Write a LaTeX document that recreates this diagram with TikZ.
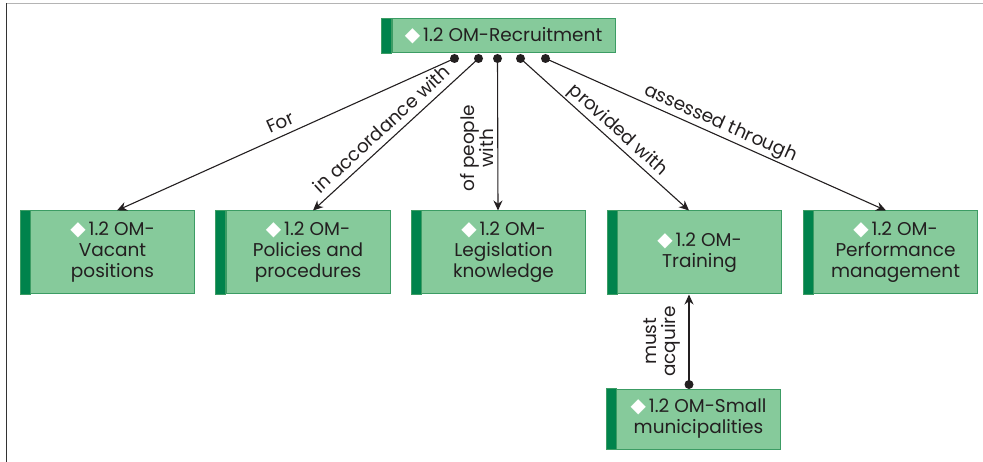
\documentclass[tikz,border=0pt]{standalone}
\usepackage{fontspec}
\setmainfont{Poppins}
\newfontfamily\symbolfont{DejaVu Sans}
\usetikzlibrary{arrows.meta,calc}

\definecolor{conceptfill}{HTML}{86CA9B}
\definecolor{conceptline}{HTML}{3C9C64}
\definecolor{conceptstrip}{HTML}{00834C}
\definecolor{ink}{HTML}{231F20}
\definecolor{framegray}{HTML}{B4B4B4}
\definecolor{framedark}{HTML}{333333}

% white diamond bullet in front of each concept title
\newcommand{\bullitem}{{\symbolfont\fontsize{20}{20}\selectfont\color{white}◆}\hspace{3pt}}

\begin{document}
\begin{tikzpicture}[x=1pt,y=-1pt,
  concept/.style={draw=conceptline, fill=conceptfill, line width=1pt,
    minimum width=164pt, minimum height=83pt, inner sep=2pt,
    align=center, text=ink, font=\fontsize{18.5}{21}\selectfont},
  strip/.style={fill=conceptstrip, draw=conceptline, line width=1pt},
  link/.style={draw=ink, line width=1.1pt, -{Stealth[length=10pt,width=9pt]}},
  joint/.style={fill=ink},
  linklabel/.style={text=ink, font=\fontsize{18.5}{19}\selectfont,
    text height=13pt, text depth=3.5pt, inner sep=3pt},
]
\useasboundingbox (0,0) rectangle (983,462);

% page frame
\draw[framegray, line width=1.3pt] (6.5,3.5) -- (983,3.5);
\draw[framedark, line width=1.3pt] (6.5,3.5) -- (6.5,462);

% concepts
\node[concept, minimum width=223pt, minimum height=34pt] (rec) at (503.5,36) {\bullitem 1.2 OM-Recruitment};
\node[concept] (vac) at (112.5,252.5) {\bullitem 1.2 OM-\\Vacant\\positions};
\node[concept] (pol) at (308,252.5) {\bullitem 1.2 OM-\\Policies and\\procedures};
\node[concept] (leg) at (503.5,252.5) {\bullitem 1.2 OM-\\Legislation\\knowledge};
\node[concept] (tra) at (699.5,252.5) {\bullitem 1.2 OM-\\Training};
\node[concept] (per) at (895.5,252.5) {\bullitem 1.2 OM-\\Performance\\management};
\node[concept, minimum height=60pt] (sma) at (698.5,419) {\bullitem 1.2 OM-Small\\municipalities};

% dark strips on the left of each concept
\foreach \n in {rec,vac,pol,leg,tra,per,sma}
  \filldraw[strip] ([xshift=-10pt]\n.north west) rectangle (\n.south west);

% joints where the links leave their concepts
\coordinate (j1) at ($(rec.south west)+(63,5)$);
\coordinate (j2) at ($(rec.south west)+(87,5)$);
\coordinate (j3) at ($(rec.south west)+(106,5)$);
\coordinate (j4) at ($(rec.south west)+(129,5)$);
\coordinate (j5) at ($(rec.south west)+(154,5)$);
\coordinate (j6) at ($(sma.north)+(-9.5,-4)$);

% links
\draw[link] (j1) -- ($(vac.north)+(4.5,0)$)
  node[linklabel, pos=0.50, sloped, above] (lfor) {For};
\draw[link] (j2) -- ($(pol.north)+(5,0)$)
  node[linklabel, pos=0.53, sloped, above] (lacc) {in accordance with};
\draw[link] (j3) -- ($(leg.north)+(-5.5,0)$)
  node[linklabel, pos=0.59, rotate=90, anchor=south, align=center,
       text height=, text depth=, inner sep=4pt] (lpeo) {of people\\with};
\draw[link] (j4) -- ($(tra.north)+(-10.5,0)$)
  node[linklabel, pos=0.53, sloped, above] (lpro) {provided with};
\draw[link] (j5) -- ($(per.north)+(-9.5,0)$)
  node[linklabel, pos=0.50, sloped, above] (lass) {assessed through};
\draw[link] (j6) -- ($(tra.south)+(-10.5,0)$)
  node[linklabel, pos=0.48, rotate=90, anchor=south, align=center,
       text height=, text depth=, inner sep=8pt] (lmus) {must\\acquire};

\foreach \j in {j1,j2,j3,j4,j5,j6}
  \fill[joint] (\j) circle (4.5pt);
\end{tikzpicture}
\end{document}
